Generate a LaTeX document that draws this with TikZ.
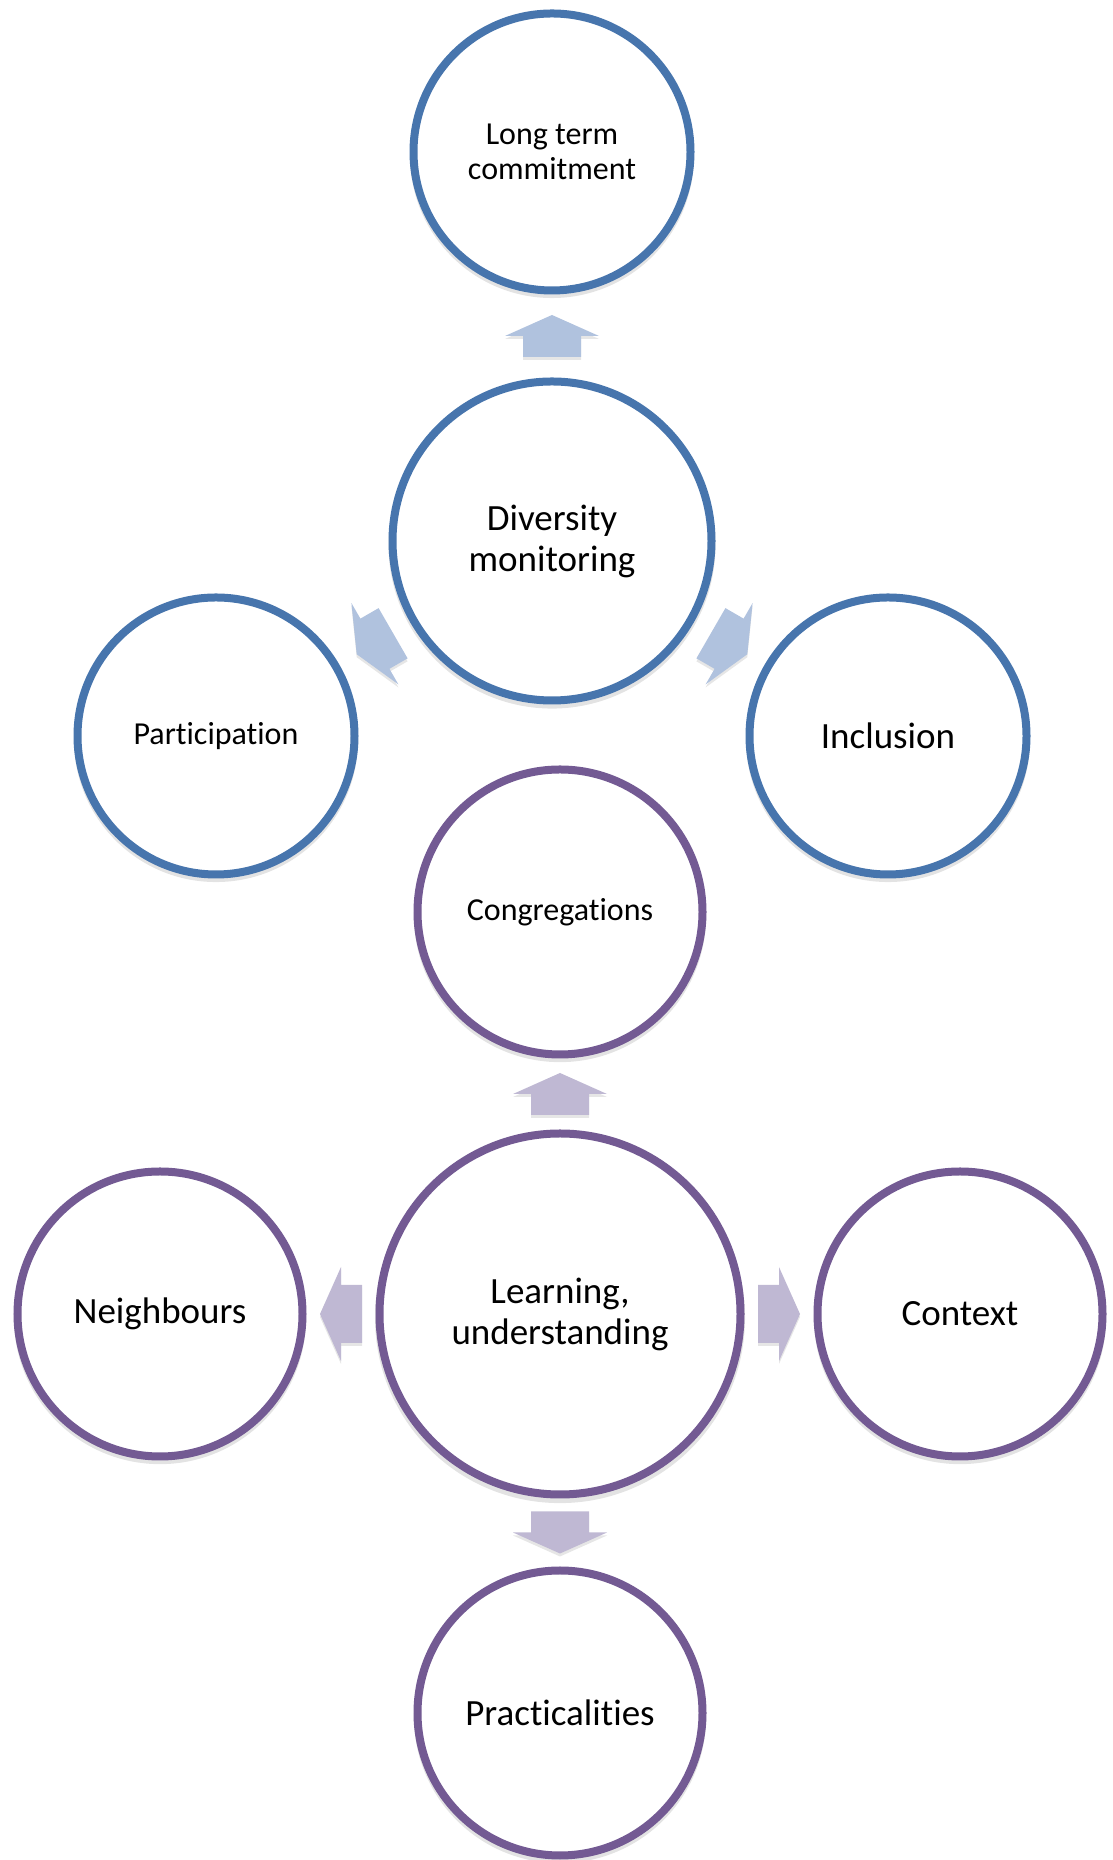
\documentclass[tikz,border=0pt]{standalone}
\usepackage{fontspec}
\setmainfont{Carlito}[RawFeature={-liga;-clig;-calt;-dlig}]
\usetikzlibrary{calc,shadows}
\definecolor{ringblue}{HTML}{4775AD}
\definecolor{arrowblue}{HTML}{B0C2DE}
\definecolor{ringpurple}{HTML}{735A93}
\definecolor{arrowpurple}{HTML}{BFB8D3}
\tikzset{
  ring/.style={circle, draw, fill=white, line width=8pt, inner sep=0pt, align=center,
    drop shadow={shadow xshift=0pt, shadow yshift=-4pt, shadow scale=1.025, opacity=0.22}},
  bluering/.style={ring, draw=ringblue},
  purplering/.style={ring, draw=ringpurple},
  smalltxt/.style={font=\fontsize{32}{35}\selectfont},
  largetxt/.style={font=\fontsize{37}{41}\selectfont},
  arrowshade/.style={drop shadow={shadow xshift=0pt, shadow yshift=-3pt, opacity=0.2}},
  bluearrow/.style={arrowshade, fill=arrowblue},
  purplearrow/.style={arrowshade, fill=arrowpurple}
}
% block arrow: #1 position, #2 direction, #3 style
\newcommand{\flowarrow}[3]{%
  \fill[#3, shift={#1}, rotate=#2] (-21,-29) -- (0,-29) -- (0,-47) -- (21,0)
    -- (0,47) -- (0,29) -- (-21,29) -- cycle;}

\begin{document}
\begin{tikzpicture}[x=1pt,y=1pt]
\useasboundingbox (0,0) rectangle (1113,1860);
% upper group
\node[bluering, smalltxt, minimum size=277] (longterm) at (552,1708) {Long term\\commitment};
\node[bluering, largetxt, minimum size=319] (diversity) at (552,1319) {Diversity\\monitoring};
\node[bluering, smalltxt, minimum size=277] (particip) at (216,1124) {Participation};
\node[bluering, largetxt, minimum size=277] (inclusion) at (888,1124) {Inclusion};
% lower group
\node[purplering, smalltxt, minimum size=285] (congreg) at (560,948) {Congregations};
\node[purplering, largetxt, minimum size=361] (learning) at (560,546) {Learning,\\understanding};
\node[purplering, largetxt, minimum size=285] (neighbours) at (160,546) {Neighbours};
\node[purplering, largetxt, minimum size=285] (context) at (960,546) {Context};
\node[purplering, largetxt, minimum size=285] (practical) at (560,147) {Practicalities};
% arrows
\flowarrow{($(diversity.north)!0.5!(longterm.south)$)}{90}{bluearrow}
\flowarrow{($(diversity.210)!0.5!(particip.30)$)}{210}{bluearrow}
\flowarrow{($(diversity.330)!0.5!(inclusion.150)$)}{330}{bluearrow}
\flowarrow{($(learning.north)!0.5!(congreg.south)$)}{90}{purplearrow}
\flowarrow{($(learning.west)!0.5!(neighbours.east)$)}{180}{purplearrow}
\flowarrow{($(learning.east)!0.5!(context.west)$)}{0}{purplearrow}
\flowarrow{($(learning.south)!0.5!(practical.north)$)}{270}{purplearrow}
\end{tikzpicture}
\end{document}
